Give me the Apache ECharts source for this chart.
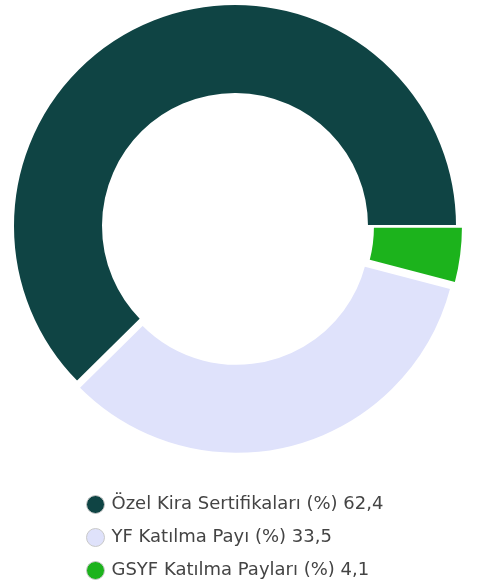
<!DOCTYPE html>
<html>
<head>
<meta charset="utf-8">
<script src="https://cdn.jsdelivr.net/npm/echarts@6/dist/echarts.min.js"></script>
<style>
  html, body { margin: 0; padding: 0; background: #fff; }
  #chart { width: 478px; height: 584px; }
</style>
</head>
<body>
<div id="chart"></div>
<script>
const names = ['Özel Kira Sertifikaları (%)', 'YF Katılma Payı (%)', 'GSYF Katılma Payları (%)']
const values = [62.4, 33.5, 4.1]
const colors = ['#0f4444', '#dfe2fb', '#1cb31c']
const offsetOn = [false, true, true]

const chart = echarts.init(document.getElementById('chart'))

const option = {
  animation: false,
  legend: {
    orient: 'vertical',
    left: 86,
    top: 495,
    padding: 0,
    icon: 'circle',
    itemWidth: 18,
    itemHeight: 18,
    itemGap: 14,
    selectedMode: false,
    itemStyle: { borderColor: '#c8c8c8', borderWidth: 1 },
    textStyle: { fontFamily: 'DejaVu Sans', fontSize: 18, color: '#444', padding: [0, 0, 0, 2] },
    formatter: function (name) {
      const i = names.indexOf(name)
      return name + ' ' + String(values[i]).replace('.', ',')
    },
    data: names
  },
  series: [
    {
      type: 'pie',
      center: [235, 226],
      radius: [132, 222],
      startAngle: 0,
      clockwise: false,
      label: { show: false },
      labelLine: { show: false },
      selectedMode: 'multiple',
      selectedOffset: 6,
      itemStyle: { borderColor: '#fff', borderWidth: 2 },
      select: { itemStyle: { borderColor: '#fff', borderWidth: 2 } },
      emphasis: { disabled: true },
      data: names.map((n, i) => ({
        name: n,
        value: values[i],
        selected: offsetOn[i],
        itemStyle: { color: colors[i] }
      }))
    }
  ]
}

chart.setOption(option)
</script>
</body>
</html>
